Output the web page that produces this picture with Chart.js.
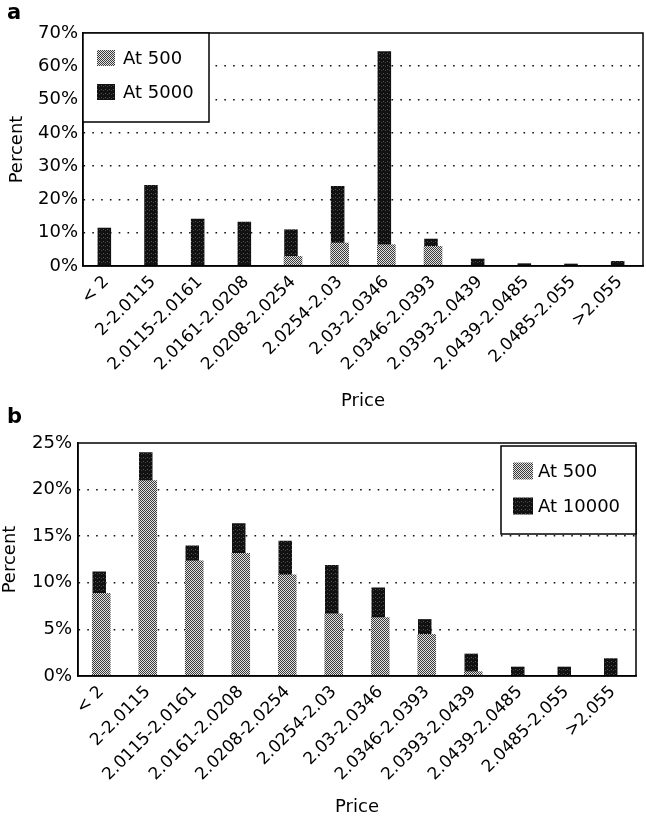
<!DOCTYPE html>
<html>
<head>
<meta charset="utf-8">
<script src="https://cdn.jsdelivr.net/npm/chart.js@4.4.1/dist/chart.umd.min.js"></script>
<style>
  html, body { margin: 0; padding: 0; background: #fff; }
  #wrap { position: relative; width: 646px; height: 822px; }
  .panel { position: absolute; left: 0; width: 646px; }
  .tag { position: absolute; font: bold 21px "DejaVu Sans", sans-serif; color: #000; line-height: 1; }
</style>
</head>
<body>
<div id="wrap">
  <div class="panel" style="top:0;height:412px"><canvas id="chartA" width="646" height="412"></canvas></div>
  <div class="panel" style="top:412px;height:410px"><canvas id="chartB" width="646" height="410"></canvas></div>
  <div class="tag" style="left:7px;top:2px">a</div>
  <div class="tag" style="left:7px;top:406px">b</div>
</div>
<script>
// Preisklassen (gemeinsam für beide Panels)
const categories = [
  "< 2", "2-2.0115", "2.0115-2.0161", "2.0161-2.0208", "2.0208-2.0254", "2.0254-2.03",
  "2.03-2.0346", "2.0346-2.0393", "2.0393-2.0439", "2.0439-2.0485", "2.0485-2.055", ">2.055"
];

// Panel a: Prozent je Preisklasse
const panelA500 = [0, 0, 0, 0, 3, 7, 6.5, 6, 0, 0, 0, 0];
const panelA5000 = [11.5, 24.3, 14.2, 13.3, 11, 24, 64.5, 8.2, 2.2, 0.8, 0.7, 1.5];

// Panel b
const panelB500 = [8.9, 21, 12.4, 13.2, 10.9, 6.7, 6.3, 4.5, 0.5, 0, 0, 0];
const panelB10000 = [11.2, 24, 14, 16.4, 14.5, 11.9, 9.5, 6.1, 2.4, 1, 1, 1.9];

// y-Achsen
const panelAMax = 70, panelAStep = 10;
const panelBMax = 25, panelBStep = 5;

Chart.defaults.font.family = '"DejaVu Sans", sans-serif';
Chart.defaults.color = "#000";

/**
 * Kleines Rastermuster (Druckraster-Optik).
 */
function makePattern(size, base, dots) {
    const c = document.createElement("canvas");
    c.width = c.height = size;
    const g = c.getContext("2d");
    g.fillStyle = base;
    g.fillRect(0, 0, size, size);
    dots.forEach(([x, y, col]) => {
        g.fillStyle = col;
        g.fillRect(x, y, 1, 1);
    });
    return g.createPattern(c, "repeat");
}

const lightFill = makePattern(2, "#e2e2e2", [[0, 0, "#3a3a3a"], [1, 1, "#3a3a3a"]]);
const darkFill = makePattern(4, "#111", [[1, 1, "#555"], [3, 2, "#444"]]);

// Versatz des dunklen Balkens (hinter dem hellen)
const shiftPlugin = {
    id: "shift",
    beforeDatasetDraw(chart, args) {
        const dx = chart.data.datasets[args.index].xShift || 0;
        chart.ctx.save();
        chart.ctx.translate(dx, 0);
    },
    afterDatasetDraw(chart) {
        chart.ctx.restore();
    },
};

// Rahmen um den Plotbereich
const framePlugin = {
    id: "frame",
    afterDatasetsDraw(chart) {
        const { ctx, chartArea: a } = chart;
        ctx.save();
        ctx.strokeStyle = "#000";
        ctx.lineWidth = 1.5;
        ctx.strokeRect(a.left, a.top, a.right - a.left, a.bottom - a.top);
        ctx.restore();
    },
};

// Legende als Kasten im Plotbereich
const boxLegendPlugin = {
    id: "boxLegend",
    afterDraw(chart, args, o) {
        const { ctx, chartArea: a } = chart;
        const x0 = o.corner === "left" ? a.left : a.right - o.w;
        const y0 = a.top + o.dy;
        ctx.save();
        ctx.fillStyle = "#fff";
        ctx.fillRect(x0, y0, o.w, o.h);
        ctx.strokeStyle = "#000";
        ctx.lineWidth = 1.5;
        ctx.strokeRect(x0, y0, o.w, o.h);
        ctx.font = '18px "DejaVu Sans", sans-serif';
        ctx.textBaseline = "middle";
        chart.data.datasets.forEach((ds, i) => {
            const cy = y0 + o.rows[i];
            ctx.fillStyle = ds.backgroundColor;
            ctx.fillRect(x0 + o.sx, cy - o.sh / 2, o.sw, o.sh);
            ctx.fillStyle = "#000";
            ctx.fillText(ds.label, x0 + o.tx, cy + 1);
        });
        ctx.restore();
    },
};

function makeChart(id, s) {
    const tickFont = { size: 18 };
    return new Chart(document.getElementById(id), {
        type: "bar",
        data: {
            labels: categories,
            datasets: [
                {
                    label: s.lightLabel,
                    data: s.light,
                    backgroundColor: lightFill,
                    grouped: false,
                    categoryPercentage: 1,
                    barPercentage: 0.4,
                    order: 0,
                },
                {
                    label: s.darkLabel,
                    data: s.dark,
                    backgroundColor: darkFill,
                    grouped: false,
                    categoryPercentage: 1,
                    barPercentage: 0.29,
                    order: 1,
                    xShift: -2,
                },
            ],
        },
        options: {
            responsive: false,
            animation: false,
            layout: { padding: { top: s.padTop, right: s.padRight, left: 0, bottom: 0 } },
            plugins: {
                legend: { display: false },
                tooltip: { enabled: false },
                boxLegend: s.legend,
            },
            scales: {
                x: {
                    grid: { display: false, drawTicks: false },
                    border: { color: "#000", width: 1.5 },
                    ticks: {
                        font: { size: 17 },
                        minRotation: 45,
                        maxRotation: 45,
                        autoSkip: false,
                        padding: 6,
                    },
                    title: {
                        display: true,
                        text: "Price",
                        font: { size: 18 },
                        padding: { top: 0, bottom: s.titleBottom },
                    },
                    afterFit: (sc) => { sc.height = s.xHeight; },
                },
                y: {
                    min: 0,
                    max: s.yMax,
                    ticks: {
                        stepSize: s.yStep,
                        callback: (v) => v + "%",
                        font: tickFont,
                        padding: s.yPad,
                    },
                    grid: {
                        drawTicks: false,
                        lineWidth: 1.6,
                        color: (c) => (c.tick && (c.tick.value === 0 || c.tick.value === s.yMax)) ? "rgba(0,0,0,0)" : "#111",
                    },
                    border: { color: "#000", width: 1.5, dash: [1.6, 7.2] },
                    title: {
                        display: true,
                        text: "Percent",
                        font: { size: 18 },
                        padding: { top: s.yTitleTop, bottom: 0 },
                    },
                    afterFit: (sc) => { sc.width = s.yWidth; },
                },
            },
        },
        plugins: [shiftPlugin, framePlugin, boxLegendPlugin],
    });
}

makeChart("chartA", {
    light: panelA500, dark: panelA5000,
    lightLabel: "At 500", darkLabel: "At 5000",
    yMax: panelAMax, yStep: panelAStep,
    padTop: 33, padRight: 3, yWidth: 83, xHeight: 146, yPad: 5, yTitleTop: 7, titleBottom: 0,
    legend: { corner: "left", w: 126, h: 89, dy: 0, sx: 14, sw: 18, sh: 16, tx: 40, rows: [25, 59] },
});

makeChart("chartB", {
    light: panelB500, dark: panelB10000,
    lightLabel: "At 500", darkLabel: "At 10000",
    yMax: panelBMax, yStep: panelBStep,
    padTop: 31, padRight: 10, yWidth: 78, xHeight: 146, yPad: 6, yTitleTop: 0, titleBottom: 4,
    legend: { corner: "right", w: 135, h: 88, dy: 3, sx: 12, sw: 20, sh: 17, tx: 37, rows: [25, 60] },
});
</script>
</body>
</html>
